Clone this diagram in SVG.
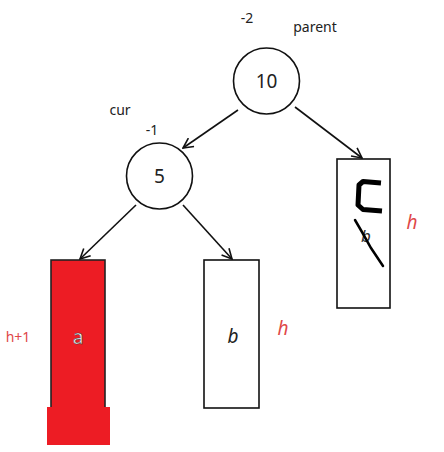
<svg xmlns="http://www.w3.org/2000/svg" width="444" height="452" viewBox="0 0 444 452">
<defs>
<marker id="ah" viewBox="0 0 12 12" refX="11" refY="6" markerWidth="12" markerHeight="12" markerUnits="userSpaceOnUse" orient="auto">
<path d="M1,1 L11,6 L1,11" fill="none" stroke="#111" stroke-width="1.6"/>
</marker>
<style>
.n{fill:#fff;stroke:#111;stroke-width:1.6}
.t{font-family:"Noto Sans","Open Sans",sans-serif;fill:#222}
.red{font-family:"Noto Sans",sans-serif;fill:#e04848}
.c{stroke:#111;stroke-width:1.6;fill:none;marker-end:url(#ah)}
</style>
</defs>
<rect width="444" height="452" fill="#fff"/>
<g id="connectors">
<line class="c" x1="238" y1="110" x2="183" y2="148"/>
<line class="c" x1="295" y1="107" x2="362" y2="158"/>
<line class="c" x1="136" y1="205" x2="80" y2="259"/>
<line class="c" x1="183" y1="205" x2="232" y2="259"/>
</g>
<g id="node-10">
<circle class="n" cx="266.5" cy="81" r="33"/>
<text class="t" x="266.5" y="88" font-size="19" text-anchor="middle">10</text>
<text class="t" x="247" y="23" font-size="14" text-anchor="middle">-2</text>
<text class="t" x="315" y="32" font-size="14" text-anchor="middle">parent</text>
</g>
<g id="node-5">
<circle class="n" cx="159.5" cy="176" r="33"/>
<text class="t" x="159.5" y="183" font-size="19" text-anchor="middle">5</text>
<text class="t" x="120" y="115" font-size="14" text-anchor="middle">cur</text>
<text class="t" x="152" y="135" font-size="14" text-anchor="middle">-1</text>
</g>
<g id="node-a">
<rect x="51" y="260" width="54" height="148" fill="#ed1c24" stroke="#222" stroke-width="1.6"/>
<rect x="47" y="407" width="63" height="38" fill="#ed1c24"/>
<text x="78" y="344" font-size="19" text-anchor="middle" font-family="Noto Sans,sans-serif" fill="#fff" stroke="#333" stroke-width="0.5">a</text>
<text class="red" x="18" y="342" font-size="14" text-anchor="middle">h+1</text>
</g>
<g id="node-b">
<rect class="n" x="204" y="260" width="55" height="148"/>
<text class="t" x="233" y="343" font-size="19" font-style="italic" text-anchor="middle">b</text>
<text class="red" x="283" y="335" font-size="19" font-style="italic" text-anchor="middle">h</text>
</g>
<g id="node-c">
<rect class="n" x="337" y="159" width="53" height="149"/>
<text x="366" y="242" font-size="17" font-style="italic" text-anchor="middle" font-family="Noto Sans,sans-serif" fill="#333">b</text>
<path d="M381,183 L363,181.5 L359,185 L358,205 L363,209.5 L382,211" fill="none" stroke="#000" stroke-width="5" stroke-linejoin="round"/>
<path d="M355,220 L362,232 L371,248 L383,266" fill="none" stroke="#000" stroke-width="2.5" stroke-linecap="round"/>
<text class="red" x="412" y="229" font-size="19" font-style="italic" text-anchor="middle">h</text>
</g>
</svg>
